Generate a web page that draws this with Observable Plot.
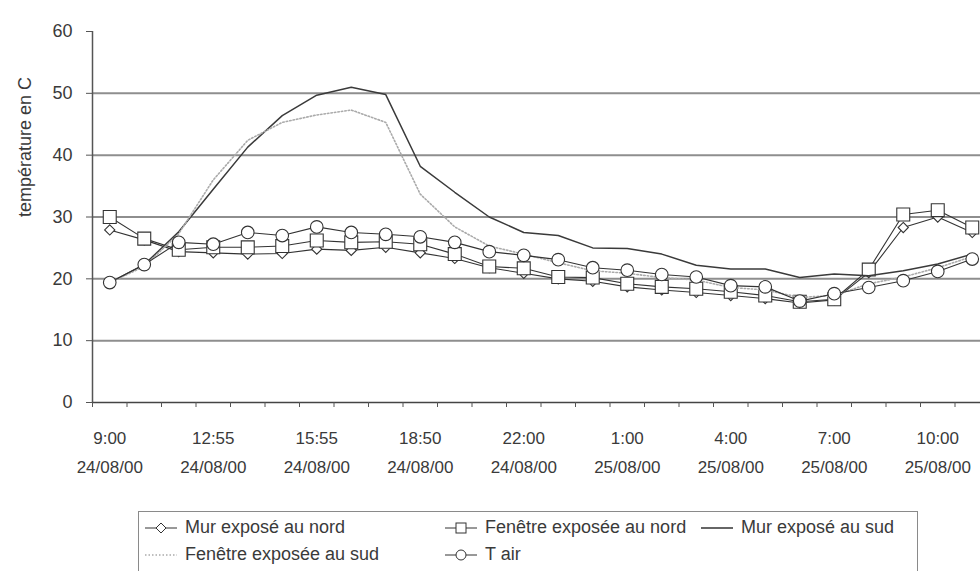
<!DOCTYPE html>
<html><head><meta charset="utf-8">
<script src="https://cdn.jsdelivr.net/npm/d3@7"></script>
<script src="https://cdn.jsdelivr.net/npm/@observablehq/plot@0.6"></script>
<style>
body{margin:0;background:#fff;font-family:"Liberation Sans",Arial,sans-serif;color:#3a3a3a}
#wrap{position:relative;width:980px;height:571px;overflow:hidden}
#legend{position:absolute;left:138px;top:511px;width:780px;height:80px;border:1px solid #8a8a8a;box-sizing:border-box;font-size:18px;color:#3a3a3a}
.item{position:absolute;display:flex;align-items:center;white-space:nowrap}
.item svg{margin-right:6px}
</style></head><body><div id="wrap"><div id="chart"></div><div id="legend"></div></div>
<script>
// categories (time / date of each measurement)
const times = ["9:00","10:55","11:55","12:55","13:55","14:55","15:55","16:55","17:50","18:50","20:00","21:00","22:00","23:00","0:00","1:00","2:00","3:00","4:00","5:00","6:00","7:00","8:00","9:00","10:00","11:00"];
const dates = ["24/08/00","24/08/00","24/08/00","24/08/00","24/08/00","24/08/00","24/08/00","24/08/00","24/08/00","24/08/00","24/08/00","24/08/00","24/08/00","24/08/00","25/08/00","25/08/00","25/08/00","25/08/00","25/08/00","25/08/00","25/08/00","25/08/00","25/08/00","25/08/00","25/08/00","25/08/00"];
const labelledIdx = [0,3,6,9,12,15,18,21,24];
const yTicks = [0,10,20,30,40,50,60];

// series values (°C)
const murNord     = [27.9,26.3,24.4,24.2,24.0,24.1,24.8,24.6,25.1,24.2,23.3,21.8,20.9,20.0,19.6,18.7,18.2,17.8,17.3,16.8,16.1,16.6,21.0,28.3,30.0,27.5];
const fenetreNord = [30.0,26.5,24.7,25.1,25.1,25.3,26.2,25.9,26.0,25.6,24.0,22.0,21.7,20.3,20.2,19.2,18.7,18.4,17.9,17.3,16.3,16.7,21.5,30.4,31.1,28.3];
const murSud      = [19.4,22.3,27.6,34.5,41.3,46.4,49.7,51.0,49.8,38.2,34.0,30.0,27.5,27.0,25.0,24.9,24.0,22.2,21.6,21.6,20.2,20.8,20.5,21.3,22.4,24.0];
const fenetreSud  = [19.4,22.0,27.3,36.0,42.4,45.3,46.5,47.3,45.3,33.7,28.4,25.3,24.0,22.6,21.3,20.9,20.2,19.8,18.6,18.2,17.0,17.3,19.2,20.3,21.8,23.6];
const tAir        = [19.4,22.3,25.9,25.6,27.5,27.0,28.4,27.5,27.2,26.8,25.9,24.4,23.8,23.1,21.8,21.4,20.7,20.3,18.9,18.7,16.4,17.6,18.6,19.7,21.2,23.2];

const names = ["Mur exposé au nord","Fenêtre exposée au nord","Mur exposé au sud","Fenêtre exposée au sud","T air"];

const ink = "#333";
const txt = "#3a3a3a";
const X = (d,i) => i;
const Y = d => d;
const lineOpts = {x: X, y: Y, stroke: ink, strokeWidth: 1.1};
const dotOpts = {x: X, y: Y, fill: "white", stroke: ink, strokeWidth: 1.1};

const chart = Plot.plot({
  width: 980, height: 500,
  marginTop: 31, marginBottom: 98, marginLeft: 92, marginRight: 0,
  style: {fontFamily: '"Liberation Sans",Arial,sans-serif', fontSize: "17px", color: txt, background: "white", overflow: "visible"},
  x: {type: "linear", domain: [-0.5, 25.5], range: [92, 989]},
  y: {domain: [0, 60], range: [402, 31]},
  marks: [
    Plot.ruleY([10,20,30,40,50], {stroke: "#8e8e8e", strokeWidth: 2}),
    Plot.ruleX([-0.5], {y1: 0, y2: 60, stroke: "#555", strokeWidth: 1.5}),
    Plot.ruleY([0], {stroke: "#444", strokeWidth: 1.5}),
    Plot.axisY({ticks: yTicks, tickSize: 6, tickPadding: 14, tickFormat: d => d, label: null, fontSize: 18, stroke: "#555"}),
    Plot.axisX({ticks: d3.range(-0.5, 26, 1), tickSize: 5, tickFormat: () => "", label: null, stroke: "#555"}),
    Plot.axisX({ticks: labelledIdx, tickSize: 0, tickPadding: 21, tickFormat: i => times[i] + "\n" + dates[i], lineHeight: 1.7, label: null, fontSize: 17}),
    Plot.text(["température en C"], {frameAnchor: "left", rotate: -90, dx: -67, fontSize: 18, fill: txt}),
    // Mur exposé au nord
    Plot.line(murNord, lineOpts),
    Plot.dot(murNord, {...dotOpts, symbol: "diamond2", r: 4.6}),
    // Fenêtre exposée au nord
    Plot.line(fenetreNord, lineOpts),
    Plot.dot(fenetreNord, {...dotOpts, symbol: "square", r: 7.3}),
    // Mur exposé au sud
    Plot.line(murSud, {...lineOpts, stroke: "#3a3a3a", strokeWidth: 1.5}),
    // Fenêtre exposée au sud
    Plot.line(fenetreSud, {...lineOpts, stroke: "#aaa", strokeWidth: 1.6, strokeDasharray: "1.5,2"}),
    // T air
    Plot.line(tAir, lineOpts),
    Plot.dot(tAir, {...dotOpts, symbol: "circle", r: 6.3})
  ]
});
document.getElementById("chart").appendChild(chart);

// legend
const sw = {
  "Mur exposé au nord": '<line x1="2" x2="34" y1="9" y2="9" stroke="#333"/><path d="M18 4 L23 9 L18 14 L13 9Z" fill="white" stroke="#333"/>',
  "Fenêtre exposée au nord": '<line x1="2" x2="34" y1="9" y2="9" stroke="#333"/><rect x="13" y="4" width="10" height="10" fill="white" stroke="#333"/>',
  "Mur exposé au sud": '<line x1="2" x2="34" y1="9" y2="9" stroke="#333" stroke-width="1.5"/>',
  "Fenêtre exposée au sud": '<line x1="2" x2="34" y1="9" y2="9" stroke="#aaa" stroke-width="1.5" stroke-dasharray="1.5,2"/>',
  "T air": '<line x1="2" x2="34" y1="9" y2="9" stroke="#333"/><circle cx="18" cy="9" r="5" fill="white" stroke="#333"/>'
};
const pos = [[4,5],[304,5],[560,5],[4,32],[304,32]];
const leg = document.getElementById("legend");
names.forEach((n, k) => {
  const d = document.createElement("div");
  d.className = "item";
  d.style.left = pos[k][0] + "px";
  d.style.top = pos[k][1] + "px";
  d.innerHTML = '<svg width="36" height="18">' + sw[n] + '</svg><span>' + n + '</span>';
  leg.appendChild(d);
});
</script></body></html>
